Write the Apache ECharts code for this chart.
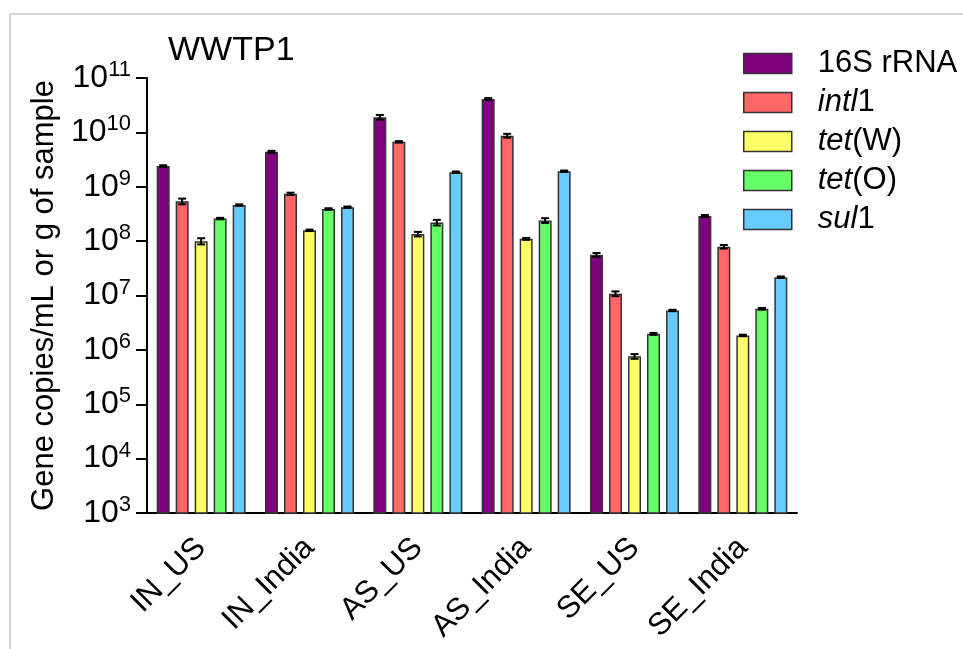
<!DOCTYPE html>
<html>
<head>
<meta charset="utf-8">
<script src="https://cdn.jsdelivr.net/npm/echarts@6/dist/echarts.min.js"></script>
<style>
html,body{margin:0;padding:0;background:#fff;}
#chart{width:963px;height:649px;}
</style>
</head>
<body>
<div id="chart"></div>
<script>
const categories = ['IN_US', 'IN_India', 'AS_US', 'AS_India', 'SE_US', 'SE_India'];
const seriesNames = ['16S rRNA', 'intl1', 'tet(W)', 'tet(O)', 'sul1'];
const rRNA16S = [2.4e9, 4.4e9, 1.9e10, 4.1e10, 5.6e7, 2.9e8];
const intl1   = [5.4e8, 7.4e8, 6.7e9, 8.7e9, 1.08e7, 7.9e7];
const tetW    = [1.0e8, 1.58e8, 1.35e8, 1.1e8, 7.6e5, 1.84e6];
const tetO    = [2.6e8, 3.9e8, 2.2e8, 2.4e8, 1.97e6, 5.7e6];
const sul1    = [4.6e8, 4.2e8, 1.85e9, 1.93e9, 5.3e6, 2.17e7];
const rRNA16S_err = [0.08e9, 0.18e9, 1.9e9, 1.6e9, 4.5e6, 0.12e8];
const intl1_err   = [0.65e8, 0.37e8, 0.2e9, 0.7e9, 1.1e6, 0.6e7];
const tetW_err    = [0.13e8, 0.05e8, 1.3e7, 0.045e8, 0.75e5, 0.06e6];
const tetO_err    = [0.08e8, 0.12e8, 0.26e8, 0.24e8, 0.08e6, 0.2e6];
const sul1_err    = [0.14e8, 0.13e8, 0.06e9, 0.06e9, 0.16e6, 0.07e7];
const yTickExponents = [3, 4, 5, 6, 7, 8, 9, 10, 11];

const values = [rRNA16S, intl1, tetW, tetO, sul1];
const errors = [rRNA16S_err, intl1_err, tetW_err, tetO_err, sul1_err];
const colors = ['#800080', '#FF6666', '#FFFF66', '#66FF66', '#66CCFF'];
const labelFormat = {
  '16S rRNA': '16S rRNA',
  'intl1': '{i|intl}1',
  'tet(W)': '{i|tet}(W)',
  'tet(O)': '{i|tet}(O)',
  'sul1': '{i|sul}1'
};
const BAR_W = 13, BAR_STEP = 19;
const FONT = 'Liberation Sans, Arial, Helvetica, sans-serif';

const chart = echarts.init(document.getElementById('chart'), null, {renderer: 'canvas'});

const series = [];
values.forEach((vals, i) => {
  series.push({
    name: seriesNames[i],
    type: 'bar',
    data: vals,
    barWidth: BAR_W,
    barGap: ((BAR_STEP - BAR_W) / BAR_W * 100) + '%',
    itemStyle: {color: colors[i], borderColor: '#333', borderWidth: 1.5},
    z: 2
  });
});
values.forEach((vals, i) => {
  series.push({
    name: seriesNames[i] + ' err',
    type: 'custom',
    data: vals.map((v, k) => [k, v - errors[i][k], v + errors[i][k]]),
    z: 5,
    silent: true,
    renderItem: function (params, api) {
      const k = api.value(0);
      const lo = api.coord([k, api.value(1)]);
      const hi = api.coord([k, api.value(2)]);
      const x = lo[0] + (i - 2) * BAR_STEP;
      const cw = 4;
      const st = {stroke: '#000', lineWidth: 2};
      return {
        type: 'group',
        children: [
          {type: 'line', shape: {x1: x, y1: lo[1], x2: x, y2: hi[1]}, style: st},
          {type: 'line', shape: {x1: x - cw, y1: lo[1], x2: x + cw, y2: lo[1]}, style: st},
          {type: 'line', shape: {x1: x - cw, y1: hi[1], x2: x + cw, y2: hi[1]}, style: st}
        ]
      };
    }
  });
});

chart.setOption({
  animation: false,
  backgroundColor: '#fff',
  textStyle: {fontFamily: FONT},
  title: {
    text: 'WWTP1',
    left: 163, top: 29,
    textStyle: {fontSize: 34, fontWeight: 'normal', color: '#000', fontFamily: FONT}
  },
  legend: {
    data: seriesNames,
    orient: 'vertical',
    left: 738, top: 43,
    itemWidth: 48, itemHeight: 20, itemGap: 8,
    icon: 'rect',
    itemStyle: {borderColor: '#333', borderWidth: 1.5},
    formatter: n => labelFormat[n],
    textStyle: {
      fontSize: 31, color: '#000', fontFamily: FONT, padding: [0, 0, 0, 21],
      rich: {i: {fontSize: 31, fontStyle: 'italic', color: '#000', fontFamily: FONT}}
    }
  },
  graphic: [
    {type: 'line', shape: {x1: 10, y1: 14, x2: 963, y2: 14}, style: {stroke: '#d4d4d4', lineWidth: 2}},
    {type: 'line', shape: {x1: 10, y1: 14, x2: 10, y2: 649}, style: {stroke: '#d4d4d4', lineWidth: 2}}
  ],
  grid: {left: 147, top: 78, right: 166, bottom: 136, containLabel: false},
  xAxis: {
    type: 'category',
    data: categories,
    boundaryGap: true,
    axisLine: {lineStyle: {color: '#000', width: 2}},
    axisTick: {alignWithLabel: true, length: 10, lineStyle: {color: '#000', width: 2}},
    axisLabel: {rotate: 45, fontSize: 31, color: '#000', margin: 30, fontFamily: FONT}
  },
  yAxis: {
    type: 'log',
    logBase: 10,
    min: Math.pow(10, yTickExponents[0]),
    max: Math.pow(10, yTickExponents[yTickExponents.length - 1]),
    interval: 1,
    name: 'Gene copies/mL or g of sample',
    nameLocation: 'middle',
    nameGap: 86,
    nameTextStyle: {fontSize: 31, color: '#000', fontFamily: FONT},
    axisLine: {show: true, lineStyle: {color: '#000', width: 2}},
    axisTick: {show: true, length: 11, lineStyle: {color: '#000', width: 2}},
    splitLine: {show: false},
    minorTick: {show: false},
    axisLabel: {
      margin: 16,
      color: '#000',
      formatter: v => '{b|10}{s|' + Math.round(Math.log10(v)) + '}',
      rich: {
        b: {fontSize: 32, lineHeight: 38, verticalAlign: 'middle', color: '#000', fontFamily: FONT},
        s: {fontSize: 22, lineHeight: 38, verticalAlign: 'top', color: '#000', fontFamily: FONT}
      }
    }
  },
  series: series
});
</script>
</body>
</html>
